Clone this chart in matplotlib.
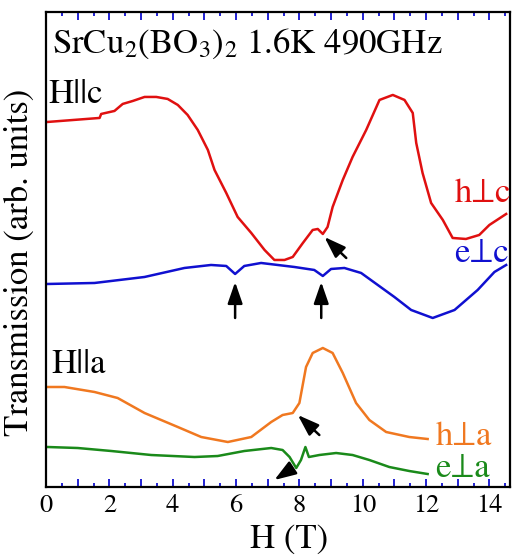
import matplotlib.pyplot as plt
from matplotlib.ticker import MultipleLocator, FuncFormatter

plt.rcParams['font.family'] = ['STIXGeneral', 'Liberation Serif', 'DejaVu Serif']
plt.rcParams['mathtext.fontset'] = 'stix'

# H || c, h perp c (red)
h_c_x = [0.05, 1.69, 1.74, 2.16, 2.42, 2.74, 3.11, 3.48, 3.84, 4.16, 4.47, 4.79, 5.11, 5.32,
         5.69, 6.05, 6.48, 6.90, 7.21, 7.53, 7.79, 8.11, 8.42, 8.58, 8.74, 8.89, 9.05, 9.37,
         9.68, 10.11, 10.53, 10.95, 11.32, 11.58, 11.69, 11.89, 12.16, 12.53, 12.84, 13.26,
         13.68, 14.00, 14.53]
h_c_y = [365, 369, 373, 376, 383, 386, 390, 390, 388, 382, 372, 357, 337, 317,
         294, 270, 254, 237, 227, 227, 230, 244, 257, 258, 253, 260, 280, 307,
         330, 357, 387, 392, 387, 374, 344, 314, 284, 267, 249, 248,
         252, 262, 273]

# H || c, e perp c (blue)
e_c_x = [0.05, 1.53, 3.11, 4.37, 5.21, 5.69, 5.97, 6.26, 6.79, 7.84, 8.47, 8.74, 9.00,
         9.42, 9.95, 11.00, 11.53, 12.21, 12.90, 13.63, 14.16, 14.53]
e_c_y = [203, 204, 210, 219, 222, 221, 213, 221, 224, 220, 217, 211, 218,
         219, 214, 190, 177, 169, 177, 197, 215, 222]

# H || a, h perp a (orange)
h_a_x = [0.05, 0.58, 1.53, 2.26, 3.11, 4.16, 4.90, 5.74, 6.48, 7.11, 7.47, 7.79, 8.00,
         8.21, 8.42, 8.74, 9.05, 9.37, 9.79, 10.21, 10.74, 11.47, 12.05]
h_a_y = [100, 100, 95, 89, 74, 60, 50, 45, 50, 65, 72, 74, 84,
         120, 134, 139, 134, 114, 84, 67, 55, 50, 48]

# H || a, e perp a (green)
e_a_x = [0.05, 1.00, 2.06, 3.32, 4.69, 5.42, 6.26, 7.11, 7.47, 7.69, 7.90, 8.05, 8.19,
         8.30, 8.63, 9.16, 9.68, 10.21, 10.84, 11.47, 12.05]
e_a_y = [40, 39, 36, 32, 30, 31, 36, 39, 37, 30, 19, 27, 40,
         30, 32, 34, 32, 27, 20, 16, 13]

red, blue, orange, green = '#e01010', '#1010d0', '#f07820', '#1a8a1a'

fig = plt.figure(figsize=(5.12, 5.55), dpi=100)
ax = fig.add_axes([0.09, 0.1225, 0.906, 0.856])

ax.plot(h_c_x, h_c_y, color=red, lw=1.8)
ax.plot(e_c_x, e_c_y, color=blue, lw=1.8)
ax.plot(h_a_x, h_a_y, color=orange, lw=1.8)
ax.plot(e_a_x, e_a_y, color=green, lw=1.8)

ax.set_xlim(0, 14.65)
ax.set_ylim(0, 475)

# arrows marking the features
arrow = dict(arrowstyle='-|>,head_length=1.3,head_width=0.45', color='black',
             lw=1.8, mutation_scale=10, shrinkA=0, shrinkB=0)
ax.annotate('', xy=(8.79, 250), xytext=(9.48, 229), arrowprops=arrow)
ax.annotate('', xy=(5.97, 205), xytext=(5.97, 169), arrowprops=arrow)
ax.annotate('', xy=(8.69, 205), xytext=(8.69, 169), arrowprops=arrow)
ax.annotate('', xy=(7.95, 72), xytext=(8.63, 52), arrowprops=arrow)
ax.annotate('', xy=(7.21, 7), xytext=(7.69, 17), arrowprops=arrow, annotation_clip=False)

fs = 25
ax.text(0.2, 434, r'SrCu$_2$(BO$_3$)$_2$ 1.6K 490GHz', fontsize=fs, va='baseline')
ax.text(0.08, 384, 'H||c', fontsize=fs, va='baseline')
ax.text(0.17, 114, 'H||a', fontsize=fs, va='baseline')
ax.text(12.9, 285, 'h\u22a5c', fontsize=fs, va='baseline', color=red, clip_on=False)
ax.text(12.9, 225, 'e\u22a5c', fontsize=fs, va='baseline', color=blue, clip_on=False)
ax.text(12.29, 42, 'h\u22a5a', fontsize=fs, va='baseline', color=orange)
ax.text(12.29, 10, 'e\u22a5a', fontsize=fs, va='baseline', color=green)

ax.set_xlabel('H (T)', fontsize=fs)
ax.set_ylabel('Transmission (arb. units)', fontsize=fs)
ax.xaxis.set_label_coords(0.524, -0.078)
ax.yaxis.set_label_coords(-0.022, 0.472)

ax.xaxis.set_major_locator(MultipleLocator(1))
ax.xaxis.set_minor_locator(MultipleLocator(0.5))
ax.xaxis.set_major_formatter(FuncFormatter(lambda v, p: f'{int(round(v))}' if round(v) % 2 == 0 else ''))
ax.tick_params(axis='x', which='both', direction='in', top=True, bottom=True,
               color=blue, width=1.3, labelsize=19, pad=5)
ax.tick_params(axis='x', which='major', length=6)
ax.tick_params(axis='x', which='minor', length=3)
ax.set_yticks([])
for s in ax.spines.values():
    s.set_linewidth(1.6)

fig.savefig('out.png', dpi=100)
